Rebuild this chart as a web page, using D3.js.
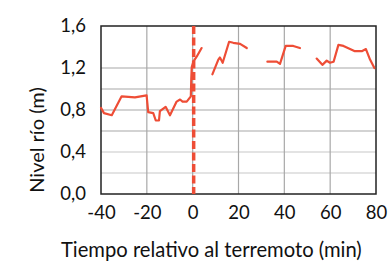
<!DOCTYPE html>
<html>
<head>
<meta charset="utf-8">
<script src="https://cdn.jsdelivr.net/npm/d3@7"></script>
<style>
  body { margin: 0; background: #fff; }
  #chart text { font-family: Lato, "Open Sans", sans-serif; fill: #111; }
</style>
</head>
<body>
<div id="chart"></div>
<script>
// river level readings, split where the record has gaps
const seg1T = [-40, -38.7, -35.3, -31, -25.2, -20.1, -19.4, -17.2, -16.1, -14.7, -14.3, -11.8, -9.9, -7.0, -5.5, -4.4, -2.6, -0.8, -0.6, -0.4, 0.3, 1.8, 3.9];
const seg1V = [0.82, 0.77, 0.75, 0.93, 0.92, 0.94, 0.78, 0.77, 0.70, 0.70, 0.79, 0.83, 0.75, 0.88, 0.90, 0.88, 0.88, 0.93, 1.10, 1.21, 1.26, 1.31, 1.39];
const seg2T = [8.6, 11.2, 11.9, 13.1, 15.9, 17.7, 20.7, 23.6];
const seg2V = [1.14, 1.28, 1.30, 1.25, 1.45, 1.44, 1.43, 1.39];
const seg3T = [32.6, 36.7, 38.1, 40.6, 43.9, 46.8];
const seg3V = [1.26, 1.26, 1.24, 1.41, 1.41, 1.39];
const seg4T = [54.1, 56.6, 58.5, 59.9, 61.5, 63.6, 65.8, 70.8, 73.8, 75.6, 77.4, 79.3];
const seg4V = [1.29, 1.23, 1.27, 1.25, 1.26, 1.42, 1.41, 1.36, 1.36, 1.38, 1.28, 1.20];

const xTicks = [-40, -20, 0, 20, 40, 60, 80];
const yTicks = [0, 0.4, 0.8, 1.2, 1.6];
const yGrid = [0.2, 0.4, 0.6, 0.8, 1.0, 1.2];
const quakeTime = 0;

const width = 392, height = 262;
const margin = { top: 26, right: 16, bottom: 68, left: 101 };
const w = width - margin.left - margin.right;
const h = height - margin.top - margin.bottom;

const svg = d3.select("#chart").append("svg")
  .attr("width", width)
  .attr("height", height);

const g = svg.append("g")
  .attr("transform", `translate(${margin.left},${margin.top})`);

const x = d3.scaleLinear().domain([-40, 80]).range([0, w]);
const y = d3.scaleLinear().domain([0, 1.6]).range([h, 0]);

// grid
g.selectAll(".hgrid").data(yGrid).join("line")
  .attr("x1", 0).attr("x2", w)
  .attr("y1", d => y(d)).attr("y2", d => y(d))
  .attr("stroke", d => d <= 0.4 ? "#c8c8c8" : "#a8a8a8")
  .attr("stroke-width", 1.2);

g.selectAll(".vgrid").data(xTicks.slice(1, -1)).join("line")
  .attr("x1", d => x(d)).attr("x2", d => x(d))
  .attr("y1", 0).attr("y2", h)
  .attr("stroke", "#a8a8a8")
  .attr("stroke-width", 1.2);

// axes (labels only, frame drawn below)
const yAxis = g.append("g")
  .call(d3.axisLeft(y).tickValues(yTicks).tickSize(0).tickPadding(15)
    .tickFormat(d => d3.format(".1f")(d).replace(".", ",")));
yAxis.select(".domain").remove();
yAxis.selectAll("text").style("font-size", "18.5px");

const xAxis = g.append("g")
  .attr("transform", `translate(0,${h})`)
  .call(d3.axisBottom(x).tickValues(xTicks).tickSize(0).tickPadding(12)
    .tickFormat(d => String(d)));
xAxis.select(".domain").remove();
xAxis.selectAll("text").style("font-size", "18.5px");

g.append("rect")
  .attr("width", w).attr("height", h)
  .attr("fill", "none")
  .attr("stroke", "#222")
  .attr("stroke-width", 1.5);

// earthquake marker
g.append("line")
  .attr("x1", x(quakeTime) + 1).attr("x2", x(quakeTime) + 1)
  .attr("y1", 0).attr("y2", h)
  .attr("stroke", "#ee4d36")
  .attr("stroke-width", 3.5)
  .attr("stroke-dasharray", "8,3.5");

// series
const line = d3.line()
  .x(d => x(d[0]))
  .y(d => y(d[1]))
  .curve(d3.curveLinear);

const segments = [[seg1T, seg1V], [seg2T, seg2V], [seg3T, seg3V], [seg4T, seg4V]];
g.selectAll(".seg").data(segments).join("path")
  .attr("class", "seg")
  .attr("fill", "none")
  .attr("stroke", "#ee4d36")
  .attr("stroke-width", 2.2)
  .attr("stroke-linejoin", "round")
  .attr("stroke-linecap", "round")
  .attr("d", d => line(d[0].map((t, i) => [t, d[1][i]])));

// titles
svg.append("text")
  .attr("transform", "translate(44,140) rotate(-90)")
  .attr("text-anchor", "middle")
  .style("font-size", "20px")
  .text("Nivel río (m)");

svg.append("text")
  .attr("x", 61)
  .attr("y", 257)
  .style("font-size", "20.2px")
  .text("Tiempo relativo al terremoto (min)");
</script>
</body>
</html>
